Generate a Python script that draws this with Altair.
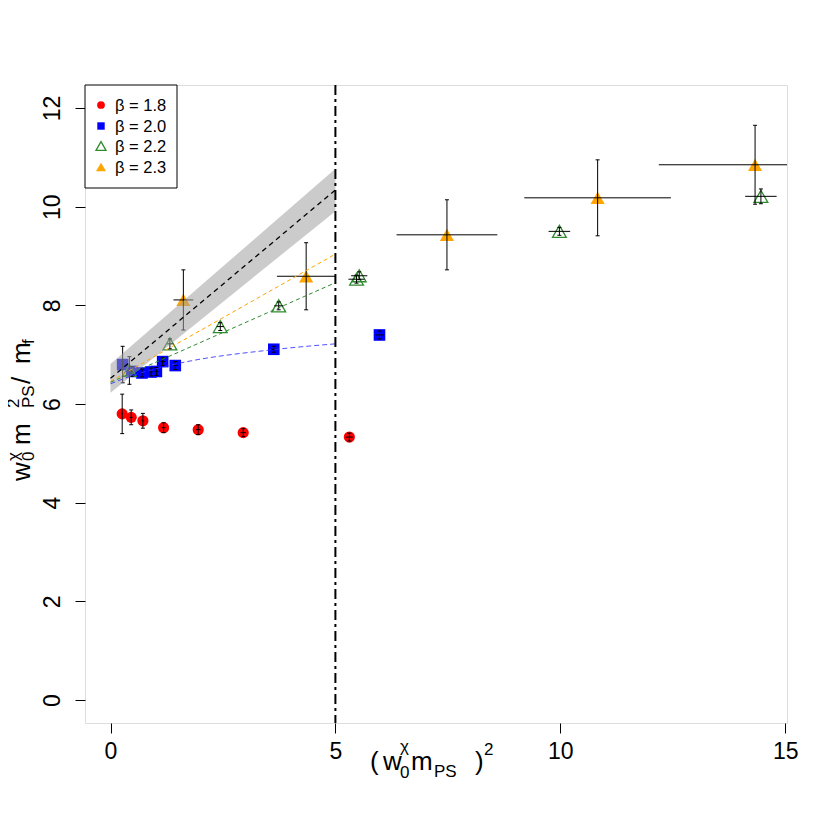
import altair as alt
import pandas as pd

# ---------------- data ----------------
# beta = 1.8 (red filled circles)
b18_x = [0.26, 0.46, 0.72, 1.18, 1.95, 2.95, 5.31]
b18_y = [5.80, 5.73, 5.66, 5.52, 5.48, 5.42, 5.33]
b18_ex = [0.02, 0.03, 0.03, 0.04, 0.05, 0.06, 0.08]
b18_ey = [0.40, 0.15, 0.15, 0.10, 0.10, 0.08, 0.08]

# beta = 2.0 (blue filled squares)
b20_x = [0.27, 0.47, 0.70, 0.90, 1.02, 1.16, 1.44, 3.63, 5.98]
b20_y = [6.80, 6.66, 6.63, 6.65, 6.66, 6.86, 6.78, 7.11, 7.40]
b20_ex = [0.02, 0.03, 0.03, 0.04, 0.04, 0.05, 0.05, 0.06, 0.10]
b20_ey = [0.37, 0.10, 0.08, 0.08, 0.08, 0.08, 0.08, 0.06, 0.08]

# beta = 2.2 (green open triangles)
b22_x = [0.42, 1.32, 2.44, 3.74, 5.47, 5.53, 9.98, 14.46]
b22_y = [6.68, 7.22, 7.57, 7.99, 8.53, 8.60, 9.50, 10.21]
b22_ex = [0.03, 0.06, 0.08, 0.10, 0.18, 0.18, 0.24, 0.35]
b22_ey = [0.28, 0.10, 0.08, 0.08, 0.08, 0.08, 0.08, 0.15]

# beta = 2.3 (orange filled triangles)
b23_x = [1.62, 4.35, 7.48, 10.83, 14.33]
b23_y = [8.11, 8.59, 9.43, 10.18, 10.85]
b23_ex = [0.22, 0.65, 1.12, 1.63, 2.14]
b23_ey = [0.61, 0.68, 0.71, 0.77, 0.80]

# fit curves (x from 0 to 5)
fit_x = [0.0, 5.0]
fit_black = [6.52, 10.34]
band_lo = [6.23, 9.91]
band_hi = [6.81, 10.77]
fit_orange = [6.46, 9.04]
fit_green = [6.44, 8.46]
blue_fit_x = [0.0, 0.5, 1.5, 3.6, 5.0]
blue_fit_y = [6.41, 6.58, 6.82, 7.10, 7.22]

cut_x = [5.0]

x_ticks = [0, 5, 10, 15]
y_ticks = [0, 2, 4, 6, 8, 10, 12]

legend_labels = ["\u03b2 = 1.8", "\u03b2 = 2.0", "\u03b2 = 2.2", "\u03b2 = 2.3"]

# ---------------- helpers ----------------
FONT = "Liberation Sans"
W, H = 702, 638

XS = alt.Scale(domain=[-0.567, 15.04], nice=False, zero=False)
YS = alt.Scale(domain=[-0.466, 12.467], nice=False, zero=False)

xaxis = alt.Axis(values=x_ticks, title=None, grid=False, domain=False,
                 tickSize=10, tickColor="black", tickWidth=1,
                 labelFontSize=23, labelFont=FONT, labelColor="black",
                 labelPadding=7, labelFlush=False, format="d")
yaxis = alt.Axis(values=y_ticks, title=None, grid=False, domain=False,
                 tickSize=10, tickColor="black", tickWidth=1,
                 labelFontSize=23, labelFont=FONT, labelColor="black",
                 labelAngle=270, labelAlign="center", labelBaseline="bottom",
                 labelPadding=11, labelFlush=False, format="d")


def X(f):
    return alt.X(f, type="quantitative", scale=XS, axis=xaxis)


def Y(f):
    return alt.Y(f, type="quantitative", scale=YS, axis=yaxis)


def sdf(xs, ys, exs, eys):
    d = pd.DataFrame({"x": xs, "y": ys, "ex": exs, "ey": eys})
    d["xlo"] = d.x - d.ex
    d["xhi"] = d.x + d.ex
    d["ylo"] = d.y - d.ey
    d["yhi"] = d.y + d.ey
    return d


d18 = sdf(b18_x, b18_y, b18_ex, b18_ey)
d20 = sdf(b20_x, b20_y, b20_ex, b20_ey)
d22 = sdf(b22_x, b22_y, b22_ex, b22_ey)
d23 = sdf(b23_x, b23_y, b23_ex, b23_ey)

layers = []

# points
layers.append(alt.Chart(d18).mark_point(shape="circle", filled=True, color="#FF0000",
                                        size=125, opacity=1).encode(x=X("x"), y=Y("y")))
layers.append(alt.Chart(d20).mark_point(shape="square", filled=True, color="#0000FF",
                                        size=135, opacity=1).encode(x=X("x"), y=Y("y")))
layers.append(alt.Chart(d22).mark_point(shape="triangle-up", filled=False, color="#2E8B2E",
                                        strokeWidth=1.3, size=190, opacity=1).encode(x=X("x"), y=Y("y")))
layers.append(alt.Chart(d23).mark_point(shape="triangle-up", filled=True, color="#FFA500",
                                        size=200, opacity=1).encode(x=X("x"), y=Y("y")))

# error bars
err = pd.concat([d18, d20, d22, d23], ignore_index=True)
layers.append(alt.Chart(err).mark_rule(color="black", strokeWidth=1, clip=True)
              .encode(x=X("x"), y=Y("ylo"), y2="yhi"))
layers.append(alt.Chart(err).mark_rule(color="black", strokeWidth=1, clip=True)
              .encode(x=X("xlo"), x2="xhi", y=Y("y")))
caps = pd.concat([err[["x", "ylo"]].rename(columns={"ylo": "cy"}),
                  err[["x", "yhi"]].rename(columns={"yhi": "cy"})], ignore_index=True)
layers.append(alt.Chart(caps).mark_point(shape="M-1,0L1,0", size=16, filled=False,
                                         stroke="black", strokeWidth=1, opacity=1)
              .encode(x=X("x"), y=Y("cy")))

# fit band and lines
band = pd.DataFrame({"x": fit_x, "lo": band_lo, "hi": band_hi})
layers.append(alt.Chart(band).mark_area(color="#A0A0A0", opacity=0.55)
              .encode(x=X("x"), y=Y("lo"), y2="hi"))
fits = pd.DataFrame({"x": fit_x, "black": fit_black, "orange": fit_orange, "green": fit_green})
layers.append(alt.Chart(fits).mark_line(color="#FFA500", strokeWidth=1, strokeDash=[4, 3])
              .encode(x=X("x"), y=Y("orange")))
layers.append(alt.Chart(fits).mark_line(color="#2E8B2E", strokeWidth=1, strokeDash=[4, 3])
              .encode(x=X("x"), y=Y("green")))
bfit = pd.DataFrame({"x": blue_fit_x, "y": blue_fit_y})
layers.append(alt.Chart(bfit).mark_line(color="#3333FF", strokeWidth=1, strokeDash=[5, 3],
                                        interpolate="monotone", opacity=0.85)
              .encode(x=X("x"), y=Y("y")))
layers.append(alt.Chart(fits).mark_line(color="black", strokeWidth=1.3, strokeDash=[5, 4])
              .encode(x=X("x"), y=Y("black")))

# vertical dash-dot line at x = 5
layers.append(alt.Chart(pd.DataFrame({"x": cut_x})).mark_rule(color="black", strokeWidth=2,
                                                              strokeDash=[10, 4, 3, 4])
              .encode(x=X("x")))

one = pd.DataFrame({"a": [0]})

# legend (drawn manually, top-left corner of the plot)
layers.append(alt.Chart(one).mark_rect(fill="white", stroke="black", strokeWidth=1)
              .encode(x=alt.value(0), x2=alt.value(92), y=alt.value(0), y2=alt.value(103)))
leg_y = [20, 41, 61, 82]
leg_sym = [
    dict(shape="circle", filled=True, color="#FF0000", size=60),
    dict(shape="square", filled=True, color="#0000FF", size=55),
    dict(shape="triangle-up", filled=False, color="#2E8B2E", size=100, strokeWidth=1.3),
    dict(shape="triangle-up", filled=True, color="#FFA500", size=100),
]
for yy, sym, lab in zip(leg_y, leg_sym, legend_labels):
    layers.append(alt.Chart(one).mark_point(opacity=1, **sym)
                  .encode(x=alt.value(16), y=alt.value(yy)))
    layers.append(alt.Chart(one).mark_text(text=lab, font=FONT, fontSize=16.5, color="black",
                                           align="left", baseline="middle")
                  .encode(x=alt.value(30), y=alt.value(yy + 1)))

# x-axis title pieces: ( w_0^chi m_PS )^2
xt = [("(", 285, 685, 26), ("w", 298, 685, 26), ("\u03c7", 315, 667, 17), ("0", 315, 693, 17),
      ("m", 326, 685, 26), ("PS", 349, 692, 17), (")", 390, 685, 26), ("2", 399, 670, 17)]
for t, px, py, fs in xt:
    layers.append(alt.Chart(one).mark_text(text=t, font=FONT, fontSize=fs, color="black",
                                           align="left", baseline="alphabetic")
                  .encode(x=alt.value(px), y=alt.value(py)))

# y-axis title pieces (rotated): w_0^chi m_PS^2 / m_f
yt = [("w", -55, 396, 26), ("\u03c7", -66, 376, 17), ("0", -51, 376, 17),
      ("m", -55, 360, 26), ("2", -66, 323, 17), ("PS", -51, 323, 17),
      ("/", -55, 299, 26), ("m", -55, 279, 26), ("f", -51, 259, 17)]
for t, px, py, fs in yt:
    layers.append(alt.Chart(one).mark_text(text=t, font=FONT, fontSize=fs, color="black",
                                           align="left", baseline="alphabetic", angle=270)
                  .encode(x=alt.value(px), y=alt.value(py)))

chart = alt.layer(*layers).properties(
    width=W, height=H,
    autosize="none",
    padding={"left": 77, "top": 77, "right": 30, "bottom": 99},
).configure_view(stroke="black", strokeWidth=1.2).configure(background="white")

chart.save("out.html", embed_options={"renderer": "svg", "actions": False})
